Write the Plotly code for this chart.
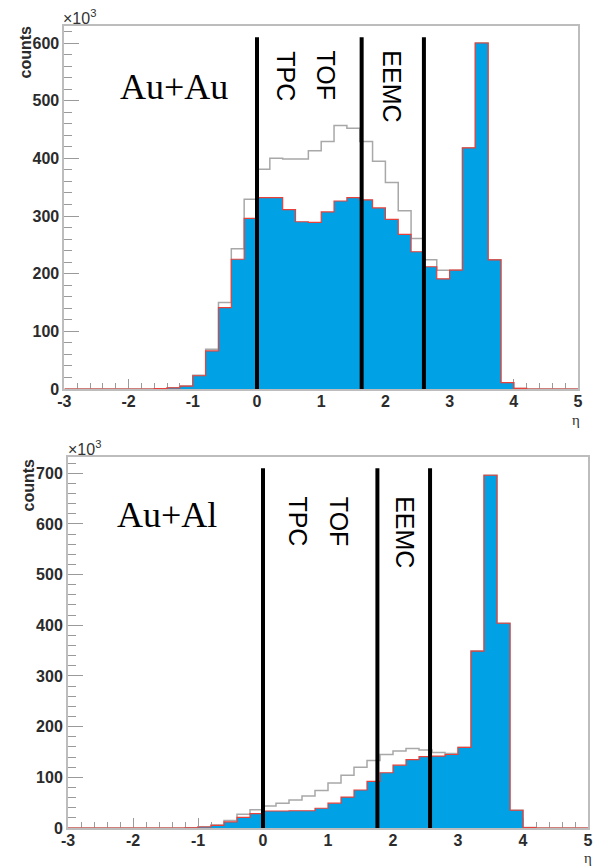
import plotly.graph_objects as go

# ---------------- data ----------------
bin_lo = -3.0
bin_width = 0.2
n_bins = 40

# Au+Au (counts in units of 10^3)
auau_all = [0]*7 + [0.5, 2, 5, 24, 69, 150, 243, 329, 381, 400, 399, 399, 413, 429, 457,
                    452, 429, 395, 358, 309, 261, 224, 206, 206, 418, 600, 224, 11, 1] + [0]*4
auau_sel = [0]*7 + [0.5, 2, 5, 23, 66, 141, 225, 296, 332, 332, 311, 290, 289, 307, 326,
                    332, 328, 314, 294, 268, 238, 212, 191, 206, 418, 600, 224, 11, 1] + [0]*4

# Au+Al
aual_all = [0]*9 + [0.5, 2.5, 6, 15, 27, 36, 43.5, 49, 55, 63, 74, 89, 104, 120, 133,
                    145, 152, 157, 154, 149, 147, 159, 349, 696, 404, 35, 1] + [0]*4
aual_sel = [0]*9 + [0.5, 2, 5, 12, 21, 28.5, 33.5, 33.5, 34, 34, 39, 49, 61, 75, 92,
                    109, 124, 135, 141, 142, 145, 159, 349, 696, 404, 35, 1] + [0]*4

# detector acceptance boundaries (eta)
bounds_auau = [0.0, 1.63, 2.60]
bounds_aual = [0.0, 1.76, 2.57]
det_names = ["TPC", "TOF", "EEMC"]
det_x_auau = [0.46, 1.08, 2.11]
det_x_aual = [0.54, 1.18, 2.19]

x_ticks = [-3, -2, -1, 0, 1, 2, 3, 4, 5]
y_ticks_auau = [0, 100, 200, 300, 400, 500, 600]
y_ticks_aual = [0, 100, 200, 300, 400, 500, 600, 700]

# ---------------- helpers ----------------
edges = [round(bin_lo + i * bin_width, 3) for i in range(n_bins + 1)]


def step_xy(vals):
    return edges, list(vals) + [vals[-1]]


BLUE = "#00a2e5"
RED = "#e8403a"
GRAY = "#a8a8a8"
FRAME = "#bdbdbd"
TICKC = "#9a9a9a"

fig = go.Figure()

panels = [
    (auau_all, auau_sel, "x", "y"),
    (aual_all, aual_sel, "x2", "y2"),
]
for all_v, sel_v, xa, ya in panels:
    gx, gy = step_xy(all_v)
    fig.add_trace(go.Scatter(x=gx, y=gy, mode="lines", line=dict(shape="hv", color=GRAY, width=1.5),
                             xaxis=xa, yaxis=ya, showlegend=False, hoverinfo="skip"))
    bx, by = step_xy(sel_v)
    fig.add_trace(go.Scatter(x=bx, y=by, mode="lines", line=dict(shape="hv", color=RED, width=1.2),
                             fill="tozeroy", fillcolor=BLUE,
                             xaxis=xa, yaxis=ya, showlegend=False, hoverinfo="skip"))

tickfont = dict(family="Liberation Sans", size=16, color="#2b2b2b", weight=700)


def bold(vals):
    return ["<b>%s</b>" % v for v in vals]


def xaxis_cfg(domain):
    return dict(domain=domain, range=[-3, 5], tickmode="array", tickvals=x_ticks,
                ticktext=bold(x_ticks), ticks="inside", ticklen=10, tickwidth=1.2,
                tickcolor=TICKC, showgrid=False, zeroline=False, showline=True, mirror=True,
                linecolor=FRAME, linewidth=2, tickfont=tickfont, layer="below traces",
                ticklabelstandoff=-3,
                minor=dict(ticks="inside", ticklen=6, dtick=0.2, tick0=-3, tickcolor=TICKC,
                           tickwidth=1, showgrid=False),
                automargin=False, fixedrange=True)


def yaxis_cfg(domain, rng, tv, anchor):
    return dict(domain=domain, range=rng, tickmode="array", tickvals=tv,
                ticktext=bold(tv), ticks="inside", ticklen=15, tickwidth=1.2,
                tickcolor=TICKC, showgrid=False, zeroline=False, showline=True, mirror=True,
                linecolor=FRAME, linewidth=2, tickfont=tickfont, layer="below traces",
                minor=dict(ticks="inside", ticklen=8, dtick=20, tick0=0, tickcolor=TICKC,
                           tickwidth=1, showgrid=False),
                anchor=anchor, automargin=False, fixedrange=True)


W, H = 606, 867
fig.update_layout(
    width=W, height=H, margin=dict(l=0, r=0, t=0, b=0),
    paper_bgcolor="white", plot_bgcolor="white",
    xaxis=dict(**xaxis_cfg([64.4 / W, 578 / W]), anchor="y"),
    yaxis=yaxis_cfg([1 - 389 / H, 1 - 25.7 / H], [0, 630], y_ticks_auau, "x"),
    xaxis2=dict(**xaxis_cfg([68 / W, 588 / W]), anchor="y2"),
    yaxis2=yaxis_cfg([1 - 828 / H, 1 - 457 / H], [0, 732], y_ticks_aual, "x2"),
)

shapes = []
for b in bounds_auau:
    shapes.append(dict(type="line", xref="x", yref="y", x0=b, x1=b, y0=0, y1=610,
                       line=dict(color="black", width=4), layer="above"))
for b in bounds_aual:
    shapes.append(dict(type="line", xref="x2", yref="y2", x0=b, x1=b, y0=0, y1=710,
                       line=dict(color="black", width=4), layer="above"))
fig.update_layout(shapes=shapes)

ann = []
detfont = dict(family="Liberation Sans", size=25, color="black")
for name, xv in zip(det_names, det_x_auau):
    ann.append(dict(text=name, x=xv, y=590, xref="x", yref="y", textangle=90,
                    xanchor="center", yanchor="top", showarrow=False, font=detfont))
for name, xv in zip(det_names, det_x_aual):
    ann.append(dict(text=name, x=xv, y=658, xref="x2", yref="y2", textangle=90,
                    xanchor="center", yanchor="top", showarrow=False, font=detfont))

serif = dict(family="Liberation Serif", size=36, color="black")
ann.append(dict(text="Au+Au", x=118 / W, y=1 - 87 / H, xref="paper", yref="paper",
                xanchor="left", yanchor="middle", showarrow=False, font=serif))
ann.append(dict(text="Au+Al", x=115 / W, y=1 - 515 / H, xref="paper", yref="paper",
                xanchor="left", yanchor="middle", showarrow=False, font=serif))

labfont = dict(family="Liberation Sans", size=16, color="#2b2b2b", weight=700)
for cx, cy in [(25.5, 52), (27.5, 485)]:
    ann.append(dict(text="counts", x=cx / W, y=1 - cy / H, xref="paper", yref="paper",
                    textangle=-90, xanchor="center", yanchor="middle", showarrow=False, font=labfont))

expfont = dict(family="Liberation Sans", size=16, color="#333333")
for lx, cy in [(61, 17), (66, 448)]:
    ann.append(dict(text="×10<sup>3</sup>", x=lx / W, y=1 - cy / H, xref="paper", yref="paper",
                    xanchor="left", yanchor="middle", showarrow=False, font=expfont))

etafont = dict(family="Liberation Serif", size=15, color="#333333")
for cx, cy in [(576, 420), (588, 858)]:
    ann.append(dict(text="η", x=cx / W, y=1 - cy / H, xref="paper", yref="paper",
                    xanchor="center", yanchor="middle", showarrow=False, font=etafont))

fig.update_layout(annotations=ann)

fig.write_html("out.html")
